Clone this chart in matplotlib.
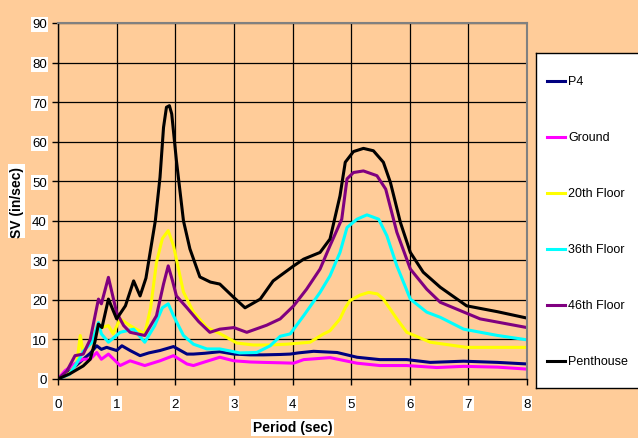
import matplotlib
matplotlib.use("Agg")
import matplotlib.pyplot as plt

plt.rcParams["font.family"] = ["Liberation Sans", "DejaVu Sans"]

# period (sec) / SV (in/sec)
p4_x = [0, 0.18, 0.43, 0.55, 0.66, 0.74, 0.83, 1.0, 1.09, 1.23, 1.40, 1.55, 1.74, 1.97, 2.2, 2.31, 2.5, 2.76, 3.0, 3.28, 3.5, 3.79, 3.96, 4.1, 4.36, 4.76, 5.1, 5.49, 5.95, 6.35, 6.92, 7.5, 8.0]
p4_y = [0, 1.7, 5.0, 6.5, 8.4, 7.5, 8.0, 7.2, 8.4, 7.2, 5.9, 6.6, 7.2, 8.2, 6.3, 6.3, 6.5, 6.9, 6.3, 6.1, 6.1, 6.2, 6.3, 6.6, 7.0, 6.7, 5.5, 4.9, 4.9, 4.2, 4.5, 4.2, 3.8]

ground_x = [0, 0.12, 0.32, 0.43, 0.55, 0.66, 0.74, 0.86, 1.06, 1.23, 1.48, 1.74, 1.97, 2.2, 2.31, 2.5, 2.76, 3.0, 3.28, 3.5, 3.79, 4.02, 4.19, 4.64, 5.1, 5.49, 5.95, 6.46, 6.92, 7.5, 8.0]
ground_y = [0, 2.1, 4.2, 5.0, 5.0, 6.7, 5.0, 6.3, 3.4, 4.6, 3.4, 4.6, 5.9, 3.8, 3.4, 4.3, 5.5, 4.6, 4.3, 4.2, 4.1, 4.0, 4.9, 5.4, 4.0, 3.4, 3.4, 2.9, 3.2, 3.0, 2.5]

floor20_x = [0, 0.2, 0.32, 0.38, 0.43, 0.58, 0.66, 0.86, 0.94, 1.06, 1.23, 1.48, 1.58, 1.68, 1.78, 1.88, 1.97, 2.14, 2.31, 2.54, 2.76, 3.05, 3.33, 3.6, 3.9, 4.3, 4.53, 4.64, 4.81, 4.9, 4.98, 5.15, 5.3, 5.45, 5.55, 5.78, 5.95, 6.35, 6.97, 7.5, 8.0]
floor20_y = [0, 1.5, 4.0, 11.0, 6.7, 10.0, 12.6, 13.5, 11.4, 15.2, 13.5, 11.4, 18.0, 29.5, 35.5, 37.5, 33.7, 22.0, 16.9, 13.0, 11.5, 9.1, 8.6, 8.6, 8.8, 9.3, 11.4, 12.2, 15.2, 18.0, 19.8, 21.2, 21.9, 21.5, 20.2, 15.2, 11.8, 9.3, 8.0, 8.0, 8.0]

floor36_x = [0, 0.2, 0.38, 0.43, 0.58, 0.69, 0.74, 0.86, 1.06, 1.29, 1.48, 1.65, 1.78, 1.88, 1.97, 2.14, 2.31, 2.54, 2.76, 3.1, 3.39, 3.62, 3.79, 3.96, 4.19, 4.47, 4.64, 4.81, 4.93, 5.1, 5.27, 5.47, 5.61, 5.78, 6.01, 6.29, 6.52, 6.92, 7.5, 8.0]
floor36_y = [0, 1.2, 5.5, 7.0, 9.3, 14.3, 11.4, 9.3, 11.8, 12.6, 9.3, 13.5, 18.0, 19.0, 16.0, 11.0, 8.8, 7.6, 7.6, 6.6, 6.7, 8.4, 10.8, 11.4, 16.0, 21.9, 26.1, 32.0, 38.3, 40.4, 41.5, 40.4, 36.2, 28.6, 20.2, 16.9, 15.6, 12.6, 11.0, 9.9]

floor46_x = [0, 0.15, 0.29, 0.43, 0.55, 0.69, 0.74, 0.86, 1.0, 1.12, 1.23, 1.48, 1.68, 1.8, 1.88, 1.95, 2.02, 2.2, 2.4, 2.59, 2.76, 3.0, 3.22, 3.56, 3.79, 4.02, 4.24, 4.47, 4.64, 4.84, 4.93, 5.04, 5.21, 5.44, 5.59, 5.78, 6.01, 6.29, 6.52, 7.2, 8.0]
floor46_y = [0, 2.0, 5.9, 6.3, 10.0, 20.2, 19.0, 25.7, 16.8, 13.5, 11.8, 11.0, 16.0, 24.0, 28.6, 25.0, 21.0, 18.0, 14.5, 11.8, 12.6, 13.0, 11.8, 13.6, 15.2, 18.5, 22.7, 27.8, 33.7, 40.4, 50.6, 52.2, 52.6, 51.4, 48.0, 37.1, 27.8, 22.7, 19.4, 15.2, 13.0]

penthouse_x = [0, 0.2, 0.43, 0.55, 0.63, 0.69, 0.75, 0.86, 1.0, 1.15, 1.29, 1.40, 1.5, 1.66, 1.74, 1.80, 1.85, 1.90, 1.94, 2.02, 2.14, 2.25, 2.42, 2.6, 2.76, 3.0, 3.19, 3.45, 3.67, 4.02, 4.19, 4.47, 4.64, 4.81, 4.90, 5.04, 5.21, 5.38, 5.55, 5.67, 5.84, 6.01, 6.23, 6.52, 6.97, 7.5, 8.0]
penthouse_y = [0, 1.3, 3.3, 5.0, 9.4, 13.9, 13.0, 20.2, 15.2, 18.5, 24.8, 21.0, 25.5, 40.0, 51.0, 63.6, 68.7, 69.1, 67.0, 55.2, 40.0, 32.9, 25.8, 24.5, 24.0, 20.6, 18.0, 20.2, 24.8, 28.6, 30.3, 32.0, 35.4, 46.3, 54.8, 57.5, 58.3, 57.7, 54.8, 49.7, 39.6, 32.0, 27.0, 23.2, 18.5, 17.0, 15.4]

series = [
    ("P4", p4_x, p4_y, "#000080"),
    ("Ground", ground_x, ground_y, "#FF00FF"),
    ("20th Floor", floor20_x, floor20_y, "#FFFF00"),
    ("36th Floor", floor36_x, floor36_y, "#00FFFF"),
    ("46th Floor", floor46_x, floor46_y, "#800080"),
    ("Penthouse", penthouse_x, penthouse_y, "#000000"),
]

bg = "#FFCC99"
fig = plt.figure(figsize=(6.38, 4.39), dpi=100, facecolor=bg)
ax = fig.add_axes([58 / 638, 1 - 380 / 439, 469 / 638, 356 / 439], facecolor=bg)

for label, xs, ys, color in series:
    ax.plot(xs, ys, color=color, lw=2.2, solid_joinstyle="round", label=label)

ax.set_xlim(0, 8)
ax.set_ylim(0, 90)
ax.set_xticks(range(0, 9))
ax.set_yticks(range(0, 91, 10))
ax.grid(True, color="black", lw=0.9)
ax.set_axisbelow(True)
for side in ("top", "right"):
    ax.spines[side].set_color("#808080")
    ax.spines[side].set_linewidth(1.5)
for side in ("left", "bottom"):
    ax.spines[side].set_color("black")
    ax.spines[side].set_linewidth(1.0)
ax.tick_params(direction="out", length=4, width=1, labelsize=9.5, pad=4)
ax.tick_params(axis="x", pad=9.5)
for t in ax.get_xticklabels() + ax.get_yticklabels():
    t.set_bbox(dict(facecolor="white", edgecolor="none", pad=1))

ax.set_xlabel("Period (sec)", fontsize=10, fontweight="bold", labelpad=7.5,
              bbox=dict(facecolor="white", edgecolor="none", pad=1))
ax.set_ylabel("SV (in/sec)", fontsize=10, fontweight="bold", labelpad=6,
              bbox=dict(facecolor="white", edgecolor="none", pad=1))

# legend box drawn by hand to match the tall, evenly spaced original
lax = fig.add_axes([536 / 638, 1 - 389 / 439, 110 / 638, 335 / 439], facecolor="white")
lax.set_xlim(0, 110)
lax.set_ylim(335, 0)
lax.set_xticks([])
lax.set_yticks([])
for s in lax.spines.values():
    s.set_color("black")
    s.set_linewidth(1.0)
for i, (label, xs, ys, color) in enumerate(series):
    yy = 28 + i * 56
    lax.plot([11, 29], [yy, yy], color=color, lw=2.2)
    lax.text(32, yy, label, fontsize=9, va="center", ha="left")

fig.savefig("out.png", dpi=100, facecolor=bg)
